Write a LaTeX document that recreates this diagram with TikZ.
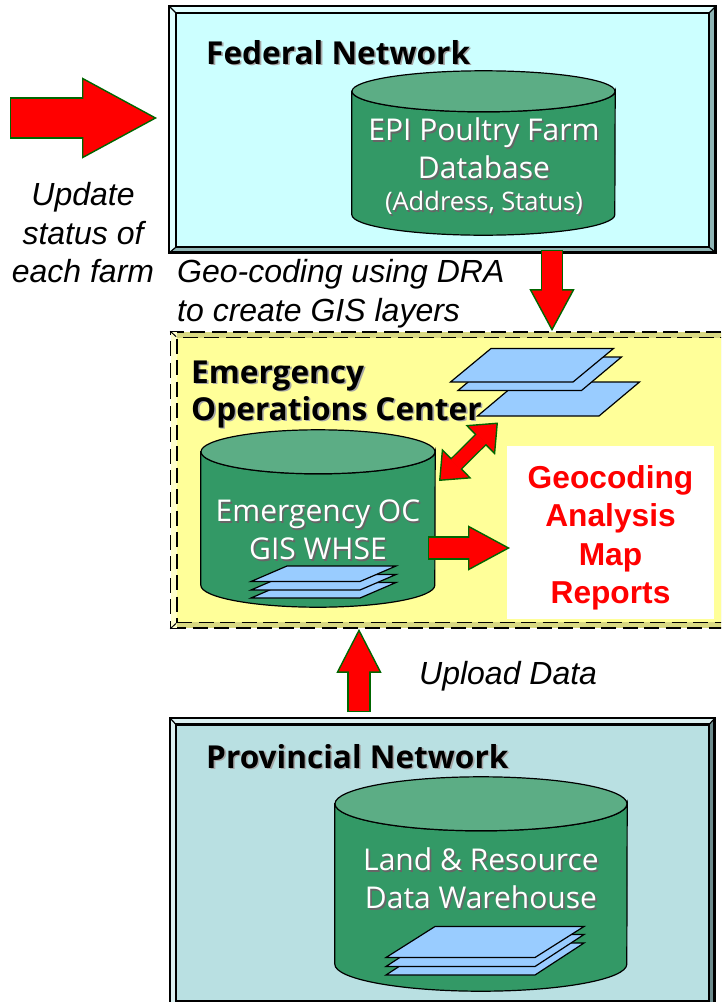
\documentclass[tikz,border=0pt]{standalone}
\usepackage{fontspec}
\setmainfont{Liberation Sans}
\newfontfamily\headfont{Open Sans}
\usetikzlibrary{arrows.meta, positioning}

\definecolor{arrowgreen}{HTML}{006600}
\definecolor{fedblue}{HTML}{CCFFFF}
\definecolor{fedlight}{HTML}{E0FFFF}
\definecolor{feddark}{HTML}{8FB5B5}
\definecolor{eocyellow}{HTML}{FFFF99}
\definecolor{eoclight}{HTML}{FFFFCC}
\definecolor{eocdark}{HTML}{D9D982}
\definecolor{provteal}{HTML}{B9E0E2}
\definecolor{provlight}{HTML}{DCF0F1}
\definecolor{provdark}{HTML}{6C8A8C}
\definecolor{dbgreen}{HTML}{339966}
\definecolor{dbtop}{HTML}{5CAD85}
\definecolor{planeblue}{HTML}{99CCFF}

\newcommand{\softshadow}[2]{\leavevmode\rlap{\kern1.6pt\raisebox{-1.6pt}{\color{#1}#2}}#2}
\newcommand{\layerplane}[5]{\draw[plane] (#1,#2) -- ++(#3,0) -- ++(#4,-#5) -- ++(-#3,0) -- cycle;}
\newcommand{\bevel}[3]{\fill[#3] (#1.north east) -- (#1.north west) -- (#1.south west) -- (#2.south west) -- (#2.north west) -- (#2.north east) -- cycle;
    \draw[line width=2.2pt] (#1.north west) rectangle (#1.south east);
    \draw[line width=2.2pt] (#2.north west) rectangle (#2.south east);
    \draw[line width=1.2pt] (#1.north west) -- (#2.north west);
    \draw[line width=1.2pt] (#1.north east) -- (#2.north east);
    \draw[line width=1.2pt] (#1.south west) -- (#2.south west);
    \draw[line width=1.2pt] (#1.south east) -- (#2.south east);}
\newcommand{\dbdrum}[6]{%
    \node[minimum width=#4pt, minimum height=#5pt, inner sep=0pt] (#1) at (#2,#3) {};
    \draw[dbbody] ([yshift=-#6pt]#1.north west) -- ([yshift=#6pt]#1.south west)
        arc[start angle=180, end angle=0, x radius=#4/2, y radius=#6]
        -- ([yshift=-#6pt]#1.north east) arc[start angle=0, end angle=180, x radius=#4/2, y radius=#6] -- cycle;
    \draw[dbend] ([yshift=-#6pt]#1.north) ellipse[x radius=#4/2, y radius=#6];}

\begin{document}
\begin{tikzpicture}[
    x=1pt, y=-1pt,
    netbox/.style = {
        rectangle,
        draw,
        line width=1.7pt,
        inner sep=0pt
    },
    dashbox/.style = {
        netbox,
        dash pattern=on 15pt off 6.5pt
    },
    dbbody/.style = {
        draw,
        line width=1.2pt,
        fill=dbgreen
    },
    dbend/.style = {
        draw,
        line width=1.2pt,
        fill=dbtop
    },
    title/.style = {
        font=\headfont\bfseries\fontsize{31.6}{37}\selectfont,
        align=left,
        anchor=west,
        inner sep=0pt
    },
    dbtext/.style = {
        font=\headfont\fontsize{30}{38}\selectfont,
        text=white,
        align=center,
        inner sep=0pt
    },
    note/.style = {
        font=\itshape\fontsize{32}{38.5}\selectfont,
        inner sep=0pt
    },
    plane/.style = {
        draw,
        line width=1.2pt,
        fill=planeblue,
        line join=miter
    },
    fatarrow/.style n args = {3}{
        draw=red,
        line width=#1,
        shorten <=1.4pt,
        shorten >=#2-2pt,
        preaction={
            draw=arrowgreen,
            line width=#1+2.8pt,
            shorten <=0pt,
            shorten >=0pt,
            -{Triangle[length=#2,width=#3,line width=1.4pt,fill=red]}
        }
    },
    fatlink/.style n args = {3}{
        draw=red,
        line width=#1,
        shorten <=#2-2pt,
        shorten >=#2-2pt,
        preaction={
            draw=arrowgreen,
            line width=#1+2.8pt,
            shorten <=0pt,
            shorten >=0pt,
            {Triangle[length=#2,width=#3,line width=1.4pt,fill=red]}-{Triangle[length=#2,width=#3,line width=1.4pt,fill=red]}
        }
    }
]

\clip (0,0) rectangle (721,1002);

% Federal box
\node[netbox, fill=feddark, minimum width=545pt, minimum height=245pt] (fed) at (442.5,129.5) {};
\node[netbox, fill=fedblue, minimum width=532pt, minimum height=233pt] (fedin) at (442.5,130) {};
\bevel{fed}{fedin}{fedlight}

% Emergency box
\node[dashbox, fill=eocdark, minimum width=600pt, minimum height=296pt] (eoc) at (471,480) {};
\fill[eocyellow] (177,338) rectangle (721,622);
\fill[eoclight] (171,332) rectangle (177,628);
\node[dashbox, minimum width=588pt, minimum height=285pt] (eocin) at (471,480) {};
\draw[line width=1pt] (eoc.north west) -- (eocin.north west);
\draw[line width=1pt] (eoc.south west) -- (eocin.south west);

% Provincial box
\node[netbox, fill=provdark, minimum width=543pt, minimum height=300pt] (prov) at (442.5,869) {};
\node[netbox, fill=provteal, minimum width=532pt, minimum height=276pt] (provin) at (442.5,863) {};
\bevel{prov}{provin}{provlight}

% Titles
\node[title] (fedtitle) at (206,53) {\softshadow{black!35}{Federal Network}};
\node[title] (eoctitle) at (191,395) {\softshadow{black!35}{Emergency}\\\softshadow{black!35}{Operations Center}};
\node[title] (provtitle) at (206,757) {\softshadow{black!35}{Provincial Network}};

% Databases
\dbdrum{feddb}{483.5}{153}{263}{164}{20.5}
\dbdrum{eocdb}{318}{518.5}{234}{177}{22}
\dbdrum{provdb}{481}{884}{292}{214}{27}

\node[dbtext] (feddbtext) at (484,149) {\softshadow{black!60}{EPI Poultry Farm}\\\softshadow{black!60}{Database}};
\node[dbtext, font=\headfont\fontsize{25.5}{30}\selectfont] (feddbnote) at (484,204) {\softshadow{black!60}{(Address, Status)}};
\node[dbtext] (eocdbtext) at (318,531) {\softshadow{black!60}{Emergency OC}\\\softshadow{black!60}{GIS WHSE}};
\node[dbtext] (provdbtext) at (481,879.5) {\softshadow{black!60}{Land \& Resource}\\\softshadow{black!60}{Data Warehouse}};

% Layers
\layerplane{477.5}{416}{121.5}{40.5}{34}
\layerplane{458}{390.5}{123.5}{40}{33.5}
\layerplane{450.5}{382}{122.5}{40.5}{33.5}

\layerplane{251}{598}{109}{36}{15.5}
\layerplane{251}{590}{109}{36}{15.5}
\layerplane{251}{581.5}{109}{36}{15.5}

\layerplane{386}{975}{149}{49}{32}
\layerplane{386}{966.5}{149}{49}{32}
\layerplane{386}{957.5}{149}{49}{31}

% Results box
\node[fill=white, minimum width=207pt, minimum height=173pt, inner sep=0pt, align=center, text=red,
      font=\bfseries\fontsize{31.7}{38.5}\selectfont] (report) at (610.5,532.5) {\rule{0pt}{34pt}Geocoding\\Analysis\\Map\\Reports};

% Notes
\node[note, align=center] (updatenote) at (83,233) {Update\\status of\\each farm};
\node[note, align=left, anchor=west] (geonote) at (177,293.5) {Geo-coding using DRA\\to create GIS layers};
\node[note, anchor=west] (uploadnote) at (419,676) {Upload Data};

% Big arrows
\coordinate (feedstart) at (10,118);
\coordinate (feedend) at (157,118);
\coordinate (downline) at (552,0);
\coordinate (upline) at (359,0);
\coordinate (upfoot) at (359,712);
\coordinate (linkend) at (498,422.5);
\coordinate (linkstart) at (439,481);
\coordinate (outstart) at (428,548);
\coordinate (outend) at (510,548);

\draw[fatarrow={38.5pt}{75pt}{81pt}] (feedstart) -- (feedend);
\draw[fatarrow={19.5pt}{42pt}{45pt}] ([yshift=3pt]fed.south -| downline) -- (eoc.north -| downline);
\draw[fatarrow={20.5pt}{44pt}{45pt}] (upfoot) -- (eoc.south -| upline);
\draw[fatlink={13pt}{25pt}{42pt}] (linkstart) -- (linkend);
\draw[fatarrow={20.5pt}{42pt}{45pt}] (outstart) -- (outend);

\end{tikzpicture}
\end{document}
